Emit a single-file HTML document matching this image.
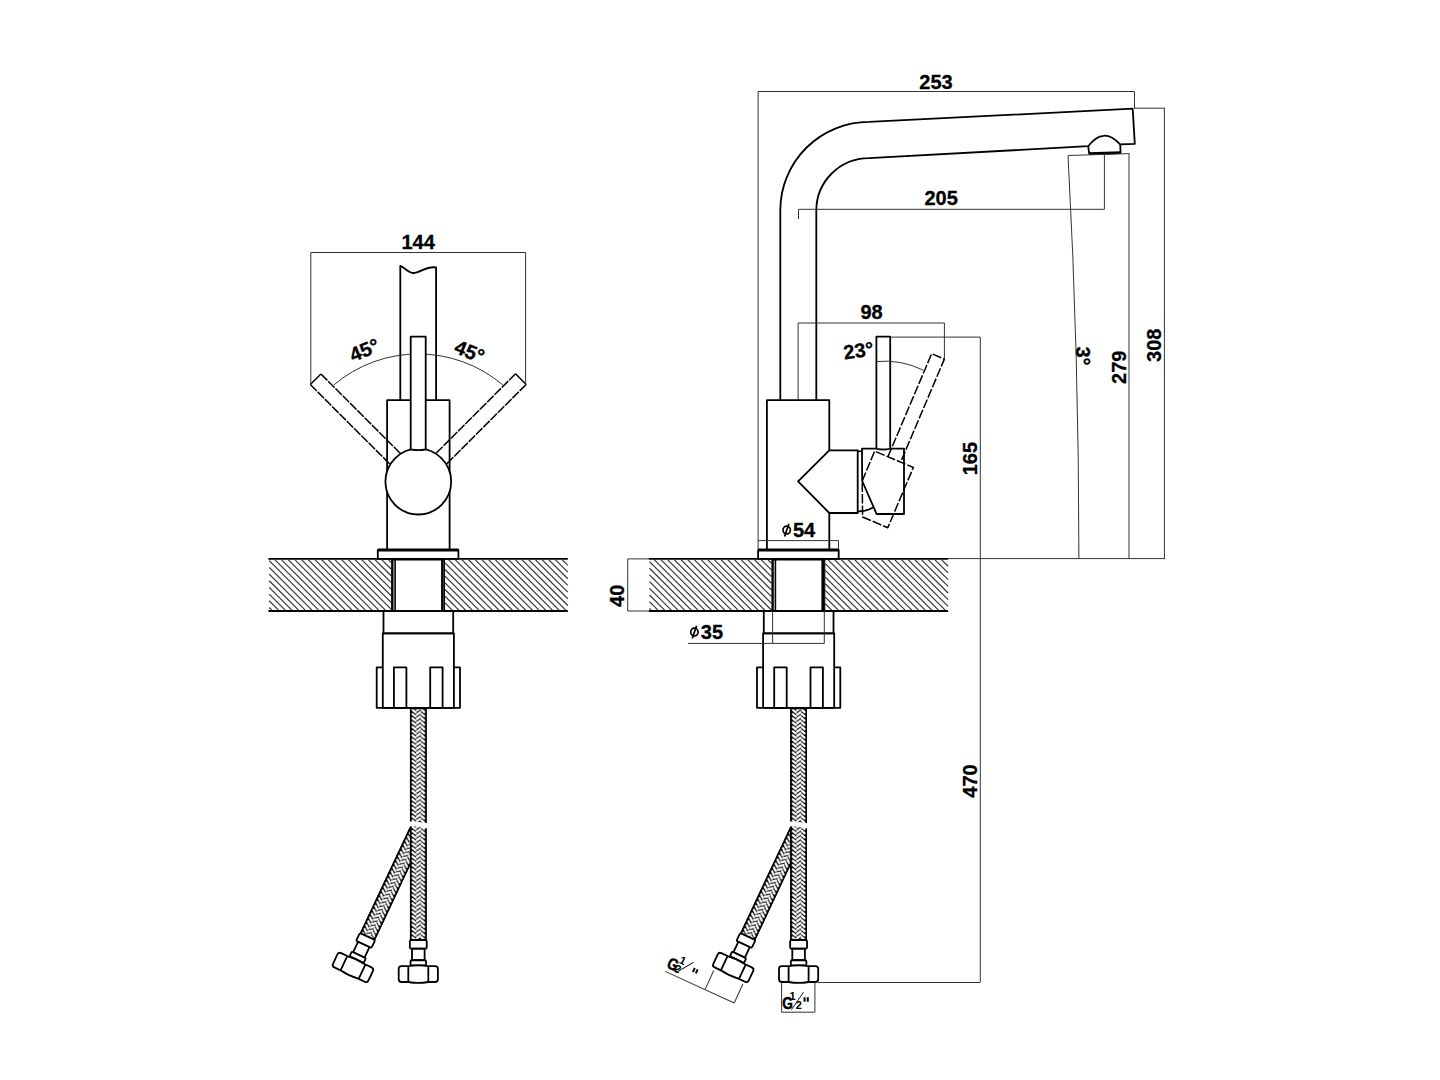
<!DOCTYPE html><html><head><meta charset="utf-8"><style>html,body{margin:0;padding:0;background:#fff;}svg{display:block}</style></head><body>
<svg width="1440" height="1080" viewBox="0 0 1440 1080" font-family="Liberation Sans, sans-serif" font-weight="bold" stroke-linejoin="round">
<rect width="1440" height="1080" fill="#fff"/>
<defs>
<pattern id="braid" patternUnits="userSpaceOnUse" x="0" y="0" width="16.7" height="4.26">
<rect width="16.7" height="4.26" fill="#000"/>
<g stroke="#fff" stroke-width="2.25" stroke-linecap="round">
<line x1="2.6" y1="-3.06" x2="5.6" y2="-0.56"/><line x1="7.1" y1="-2.46" x2="10.1" y2="-4.96"/><line x1="11.5" y1="-3.16" x2="14.3" y2="-0.76"/><line x1="2.6" y1="1.20" x2="5.6" y2="3.70"/><line x1="7.1" y1="1.80" x2="10.1" y2="-0.70"/><line x1="11.5" y1="1.10" x2="14.3" y2="3.50"/><line x1="2.6" y1="5.46" x2="5.6" y2="7.96"/><line x1="7.1" y1="6.06" x2="10.1" y2="3.56"/><line x1="11.5" y1="5.36" x2="14.3" y2="7.76"/>
</g></pattern>
</defs>
<g stroke="#333" stroke-width="1.2">
<line x1="269.20" y1="607.46" x2="271.84" y2="610.10"/>
<line x1="269.20" y1="600.78" x2="278.52" y2="610.10"/>
<line x1="269.20" y1="594.10" x2="285.20" y2="610.10"/>
<line x1="269.20" y1="587.42" x2="291.88" y2="610.10"/>
<line x1="269.20" y1="580.74" x2="298.56" y2="610.10"/>
<line x1="269.20" y1="574.06" x2="305.24" y2="610.10"/>
<line x1="269.20" y1="567.38" x2="311.92" y2="610.10"/>
<line x1="269.20" y1="560.70" x2="318.60" y2="610.10"/>
<line x1="274.98" y1="559.80" x2="325.28" y2="610.10"/>
<line x1="281.66" y1="559.80" x2="331.96" y2="610.10"/>
<line x1="288.34" y1="559.80" x2="338.64" y2="610.10"/>
<line x1="295.02" y1="559.80" x2="345.32" y2="610.10"/>
<line x1="301.70" y1="559.80" x2="352.00" y2="610.10"/>
<line x1="308.38" y1="559.80" x2="358.68" y2="610.10"/>
<line x1="315.06" y1="559.80" x2="365.36" y2="610.10"/>
<line x1="321.74" y1="559.80" x2="372.04" y2="610.10"/>
<line x1="328.42" y1="559.80" x2="378.72" y2="610.10"/>
<line x1="335.10" y1="559.80" x2="385.40" y2="610.10"/>
<line x1="341.78" y1="559.80" x2="391.10" y2="609.12"/>
<line x1="348.46" y1="559.80" x2="391.10" y2="602.44"/>
<line x1="355.14" y1="559.80" x2="391.10" y2="595.76"/>
<line x1="361.82" y1="559.80" x2="391.10" y2="589.08"/>
<line x1="368.50" y1="559.80" x2="391.10" y2="582.40"/>
<line x1="375.18" y1="559.80" x2="391.10" y2="575.72"/>
<line x1="381.86" y1="559.80" x2="391.10" y2="569.04"/>
<line x1="388.54" y1="559.80" x2="391.10" y2="562.36"/>
<line x1="445.00" y1="609.58" x2="445.52" y2="610.10"/>
<line x1="445.00" y1="602.90" x2="452.20" y2="610.10"/>
<line x1="445.00" y1="596.22" x2="458.88" y2="610.10"/>
<line x1="445.00" y1="589.54" x2="465.56" y2="610.10"/>
<line x1="445.00" y1="582.86" x2="472.24" y2="610.10"/>
<line x1="445.00" y1="576.18" x2="478.92" y2="610.10"/>
<line x1="445.00" y1="569.50" x2="485.60" y2="610.10"/>
<line x1="445.00" y1="562.82" x2="492.28" y2="610.10"/>
<line x1="448.66" y1="559.80" x2="498.96" y2="610.10"/>
<line x1="455.34" y1="559.80" x2="505.64" y2="610.10"/>
<line x1="462.02" y1="559.80" x2="512.32" y2="610.10"/>
<line x1="468.70" y1="559.80" x2="519.00" y2="610.10"/>
<line x1="475.38" y1="559.80" x2="525.68" y2="610.10"/>
<line x1="482.06" y1="559.80" x2="532.36" y2="610.10"/>
<line x1="488.74" y1="559.80" x2="539.04" y2="610.10"/>
<line x1="495.42" y1="559.80" x2="545.72" y2="610.10"/>
<line x1="502.10" y1="559.80" x2="552.40" y2="610.10"/>
<line x1="508.78" y1="559.80" x2="559.08" y2="610.10"/>
<line x1="515.46" y1="559.80" x2="565.76" y2="610.10"/>
<line x1="522.14" y1="559.80" x2="567.80" y2="605.46"/>
<line x1="528.82" y1="559.80" x2="567.80" y2="598.78"/>
<line x1="535.50" y1="559.80" x2="567.80" y2="592.10"/>
<line x1="542.18" y1="559.80" x2="567.80" y2="585.42"/>
<line x1="548.86" y1="559.80" x2="567.80" y2="578.74"/>
<line x1="555.54" y1="559.80" x2="567.80" y2="572.06"/>
<line x1="562.22" y1="559.80" x2="567.80" y2="565.38"/>
</g>
<line x1="268.40" y1="558.90" x2="567.80" y2="558.90" stroke="#000" stroke-width="1.8" />
<line x1="268.40" y1="611.00" x2="567.80" y2="611.00" stroke="#000" stroke-width="1.8" />
<line x1="392.30" y1="558.90" x2="392.30" y2="611.00" stroke="#000" stroke-width="2.4" />
<line x1="395.10" y1="558.90" x2="395.10" y2="611.00" stroke="#000" stroke-width="1.6" />
<line x1="442.40" y1="558.90" x2="442.40" y2="611.00" stroke="#000" stroke-width="2.6" />
<line x1="444.40" y1="558.90" x2="444.40" y2="611.00" stroke="#000" stroke-width="1.2" />
<line x1="391.10" y1="559.20" x2="445.00" y2="559.20" stroke="#000" stroke-width="2.6" />
<rect x="377.80" y="550.00" width="80.60" height="8.90" fill="none" stroke="#000" stroke-width="1.8" />
<line x1="377.80" y1="550.00" x2="458.40" y2="550.00" stroke="#000" stroke-width="3.0" />
<rect x="383.50" y="611.00" width="69.70" height="22.30" fill="none" stroke="#000" stroke-width="1.8" />
<rect x="382.80" y="633.30" width="71.10" height="74.50" fill="none" stroke="#000" stroke-width="1.8" />
<path d="M382.80,667.4 L376.70,667.4 L376.70,707.8 L460.00,707.8 L460.00,667.4 L453.90,667.4" fill="none" stroke="#000" stroke-width="1.8" />
<rect x="393.90" y="667.40" width="12.50" height="40.40" fill="none" stroke="#000" stroke-width="1.8" />
<rect x="430.20" y="667.40" width="12.40" height="40.40" fill="none" stroke="#000" stroke-width="1.8" />
<g transform="translate(409.95 708.60) rotate(0)">
<rect x="0" y="0" width="16.7" height="115.20" fill="url(#braid)"/>
<rect x="0.6" y="0" width="15.5" height="115.20" fill="none" stroke="#000" stroke-width="1.2"/>
</g>
<g transform="translate(409.95 826.70) rotate(25.2)">
<rect x="0" y="0" width="16.7" height="117.50" fill="url(#braid)"/>
<rect x="0.6" y="0" width="15.5" height="117.50" fill="none" stroke="#000" stroke-width="1.2"/>
</g>
<g transform="translate(367.48 936.57) rotate(25.2)" fill="#fff" stroke="#000" stroke-width="1.8">
<rect x="-8.45" y="0" width="16.9" height="8.75" rx="1.5"/>
<rect x="-6.3" y="8.75" width="12.6" height="11.5"/>
<rect x="-7.8" y="20.25" width="15.6" height="5.15" rx="1.5"/>
<path d="M-10,26.2 L-16.8,26.2 Q-19.6,26.2 -19.6,29 L-19.6,39.3 Q-19.6,42 -16.8,42 L-10,42 Q0,43.7 10,42 L16.8,42 Q19.6,42 19.6,39.3 L19.6,29 Q19.6,26.2 16.8,26.2 L10,26.2 Q0,24.5 -10,26.2 Z"/>
<path d="M-10,26.2 L-10,42 M10,26.2 L10,42" fill="none"/>
</g>
<g transform="translate(409.95 825.50) rotate(0)">
<rect x="0" y="0" width="16.7" height="114.50" fill="url(#braid)"/>
<rect x="0.6" y="0" width="15.5" height="114.50" fill="none" stroke="#000" stroke-width="1.2"/>
</g>
<path d="M407.95,821.6 C415.30,820.8 421.30,823.6 428.65,823.0 L428.65,828.6 C421.30,828.0 415.30,825.6 409.65,826.4 L407.95,826.4 Z" fill="#fff" stroke="none"/>
<g transform="translate(418.30 940.00) rotate(0)" fill="#fff" stroke="#000" stroke-width="1.8">
<rect x="-8.45" y="0" width="16.9" height="8.75" rx="1.5"/>
<rect x="-6.3" y="8.75" width="12.6" height="11.5"/>
<rect x="-7.8" y="20.25" width="15.6" height="5.15" rx="1.5"/>
<path d="M-10,26.2 L-16.8,26.2 Q-19.6,26.2 -19.6,29 L-19.6,39.3 Q-19.6,42 -16.8,42 L-10,42 Q0,43.7 10,42 L16.8,42 Q19.6,42 19.6,39.3 L19.6,29 Q19.6,26.2 16.8,26.2 L10,26.2 Q0,24.5 -10,26.2 Z"/>
<path d="M-10,26.2 L-10,42 M10,26.2 L10,42" fill="none"/>
</g>
<g stroke="#333" stroke-width="1.2">
<line x1="649.50" y1="608.34" x2="651.26" y2="610.10"/>
<line x1="649.50" y1="601.66" x2="657.94" y2="610.10"/>
<line x1="649.50" y1="594.98" x2="664.62" y2="610.10"/>
<line x1="649.50" y1="588.30" x2="671.30" y2="610.10"/>
<line x1="649.50" y1="581.62" x2="677.98" y2="610.10"/>
<line x1="649.50" y1="574.94" x2="684.66" y2="610.10"/>
<line x1="649.50" y1="568.26" x2="691.34" y2="610.10"/>
<line x1="649.50" y1="561.58" x2="698.02" y2="610.10"/>
<line x1="654.40" y1="559.80" x2="704.70" y2="610.10"/>
<line x1="661.08" y1="559.80" x2="711.38" y2="610.10"/>
<line x1="667.76" y1="559.80" x2="718.06" y2="610.10"/>
<line x1="674.44" y1="559.80" x2="724.74" y2="610.10"/>
<line x1="681.12" y1="559.80" x2="731.42" y2="610.10"/>
<line x1="687.80" y1="559.80" x2="738.10" y2="610.10"/>
<line x1="694.48" y1="559.80" x2="744.78" y2="610.10"/>
<line x1="701.16" y1="559.80" x2="751.46" y2="610.10"/>
<line x1="707.84" y1="559.80" x2="758.14" y2="610.10"/>
<line x1="714.52" y1="559.80" x2="764.82" y2="610.10"/>
<line x1="721.20" y1="559.80" x2="771.40" y2="610.00"/>
<line x1="727.88" y1="559.80" x2="771.40" y2="603.32"/>
<line x1="734.56" y1="559.80" x2="771.40" y2="596.64"/>
<line x1="741.24" y1="559.80" x2="771.40" y2="589.96"/>
<line x1="747.92" y1="559.80" x2="771.40" y2="583.28"/>
<line x1="754.60" y1="559.80" x2="771.40" y2="576.60"/>
<line x1="761.28" y1="559.80" x2="771.40" y2="569.92"/>
<line x1="767.96" y1="559.80" x2="771.40" y2="563.24"/>
<line x1="825.30" y1="603.78" x2="831.62" y2="610.10"/>
<line x1="825.30" y1="597.10" x2="838.30" y2="610.10"/>
<line x1="825.30" y1="590.42" x2="844.98" y2="610.10"/>
<line x1="825.30" y1="583.74" x2="851.66" y2="610.10"/>
<line x1="825.30" y1="577.06" x2="858.34" y2="610.10"/>
<line x1="825.30" y1="570.38" x2="865.02" y2="610.10"/>
<line x1="825.30" y1="563.70" x2="871.70" y2="610.10"/>
<line x1="828.08" y1="559.80" x2="878.38" y2="610.10"/>
<line x1="834.76" y1="559.80" x2="885.06" y2="610.10"/>
<line x1="841.44" y1="559.80" x2="891.74" y2="610.10"/>
<line x1="848.12" y1="559.80" x2="898.42" y2="610.10"/>
<line x1="854.80" y1="559.80" x2="905.10" y2="610.10"/>
<line x1="861.48" y1="559.80" x2="911.78" y2="610.10"/>
<line x1="868.16" y1="559.80" x2="918.46" y2="610.10"/>
<line x1="874.84" y1="559.80" x2="925.14" y2="610.10"/>
<line x1="881.52" y1="559.80" x2="931.82" y2="610.10"/>
<line x1="888.20" y1="559.80" x2="938.50" y2="610.10"/>
<line x1="894.88" y1="559.80" x2="945.18" y2="610.10"/>
<line x1="901.56" y1="559.80" x2="948.10" y2="606.34"/>
<line x1="908.24" y1="559.80" x2="948.10" y2="599.66"/>
<line x1="914.92" y1="559.80" x2="948.10" y2="592.98"/>
<line x1="921.60" y1="559.80" x2="948.10" y2="586.30"/>
<line x1="928.28" y1="559.80" x2="948.10" y2="579.62"/>
<line x1="934.96" y1="559.80" x2="948.10" y2="572.94"/>
<line x1="941.64" y1="559.80" x2="948.10" y2="566.26"/>
</g>
<line x1="648.70" y1="558.90" x2="948.10" y2="558.90" stroke="#000" stroke-width="1.8" />
<line x1="648.70" y1="611.00" x2="948.10" y2="611.00" stroke="#000" stroke-width="1.8" />
<line x1="772.60" y1="558.90" x2="772.60" y2="611.00" stroke="#000" stroke-width="2.4" />
<line x1="775.40" y1="558.90" x2="775.40" y2="611.00" stroke="#000" stroke-width="1.6" />
<line x1="822.70" y1="558.90" x2="822.70" y2="611.00" stroke="#000" stroke-width="2.6" />
<line x1="824.70" y1="558.90" x2="824.70" y2="611.00" stroke="#000" stroke-width="1.2" />
<line x1="771.40" y1="559.20" x2="825.30" y2="559.20" stroke="#000" stroke-width="2.6" />
<rect x="758.10" y="550.00" width="80.60" height="8.90" fill="none" stroke="#000" stroke-width="1.8" />
<line x1="758.10" y1="550.00" x2="838.70" y2="550.00" stroke="#000" stroke-width="3.0" />
<rect x="763.80" y="611.00" width="69.70" height="22.30" fill="none" stroke="#000" stroke-width="1.8" />
<rect x="763.10" y="633.30" width="71.10" height="74.50" fill="none" stroke="#000" stroke-width="1.8" />
<path d="M763.10,667.4 L757.00,667.4 L757.00,707.8 L840.30,707.8 L840.30,667.4 L834.20,667.4" fill="none" stroke="#000" stroke-width="1.8" />
<rect x="774.20" y="667.40" width="12.50" height="40.40" fill="none" stroke="#000" stroke-width="1.8" />
<rect x="810.50" y="667.40" width="12.40" height="40.40" fill="none" stroke="#000" stroke-width="1.8" />
<g transform="translate(790.25 708.60) rotate(0)">
<rect x="0" y="0" width="16.7" height="115.20" fill="url(#braid)"/>
<rect x="0.6" y="0" width="15.5" height="115.20" fill="none" stroke="#000" stroke-width="1.2"/>
</g>
<g transform="translate(790.25 826.70) rotate(25.2)">
<rect x="0" y="0" width="16.7" height="117.50" fill="url(#braid)"/>
<rect x="0.6" y="0" width="15.5" height="117.50" fill="none" stroke="#000" stroke-width="1.2"/>
</g>
<g transform="translate(747.78 936.57) rotate(25.2)" fill="#fff" stroke="#000" stroke-width="1.8">
<rect x="-8.45" y="0" width="16.9" height="8.75" rx="1.5"/>
<rect x="-6.3" y="8.75" width="12.6" height="11.5"/>
<rect x="-7.8" y="20.25" width="15.6" height="5.15" rx="1.5"/>
<path d="M-10,26.2 L-16.8,26.2 Q-19.6,26.2 -19.6,29 L-19.6,39.3 Q-19.6,42 -16.8,42 L-10,42 Q0,43.7 10,42 L16.8,42 Q19.6,42 19.6,39.3 L19.6,29 Q19.6,26.2 16.8,26.2 L10,26.2 Q0,24.5 -10,26.2 Z"/>
<path d="M-10,26.2 L-10,42 M10,26.2 L10,42" fill="none"/>
</g>
<g transform="translate(790.25 825.50) rotate(0)">
<rect x="0" y="0" width="16.7" height="114.50" fill="url(#braid)"/>
<rect x="0.6" y="0" width="15.5" height="114.50" fill="none" stroke="#000" stroke-width="1.2"/>
</g>
<path d="M788.25,821.6 C795.60,820.8 801.60,823.6 808.95,823.0 L808.95,828.6 C801.60,828.0 795.60,825.6 789.95,826.4 L788.25,826.4 Z" fill="#fff" stroke="none"/>
<g transform="translate(798.60 940.00) rotate(0)" fill="#fff" stroke="#000" stroke-width="1.8">
<rect x="-8.45" y="0" width="16.9" height="8.75" rx="1.5"/>
<rect x="-6.3" y="8.75" width="12.6" height="11.5"/>
<rect x="-7.8" y="20.25" width="15.6" height="5.15" rx="1.5"/>
<path d="M-10,26.2 L-16.8,26.2 Q-19.6,26.2 -19.6,29 L-19.6,39.3 Q-19.6,42 -16.8,42 L-10,42 Q0,43.7 10,42 L16.8,42 Q19.6,42 19.6,39.3 L19.6,29 Q19.6,26.2 16.8,26.2 L10,26.2 Q0,24.5 -10,26.2 Z"/>
<path d="M-10,26.2 L-10,42 M10,26.2 L10,42" fill="none"/>
</g>
<g transform="rotate(-45 418.3 481.8)" fill="none" stroke="#000" stroke-width="1.5"><path d="M410.7,336.7 L410.7,469.8 M425.7,336.7 L425.7,469.8" stroke-dasharray="9.1 1.2"/><path d="M410.7,336.7 L425.7,336.7"/></g>
<g transform="rotate(45 418.3 481.8)" fill="none" stroke="#000" stroke-width="1.5"><path d="M410.7,336.7 L410.7,469.8 M425.7,336.7 L425.7,469.8" stroke-dasharray="9.1 1.2"/><path d="M410.7,336.7 L425.7,336.7"/></g>
<path d="M400.3,400.2 L400.3,265.8 C405,268 409,273 413.3,273 C420,273 427,265.5 436.1,267.5 L436.1,400.2" fill="none" stroke="#000" stroke-width="1.8" />
<rect x="387.10" y="400.20" width="62.50" height="149.80" fill="none" stroke="#000" stroke-width="1.8" />
<circle cx="418.3" cy="481.6" r="32.9" fill="#fff" stroke="#000" stroke-width="1.8"/>
<path d="M333.75,385 A130.6 130.6 0 0 1 502.85,385" fill="none" stroke="#333" stroke-width="1.0" />
<path d="M410.7,449.3 L410.7,336.7 L425.7,336.7 L425.7,449.3 Q418.2,451 410.7,449.3" fill="#fff" stroke="#000" stroke-width="1.8" />
<line x1="310.80" y1="252.50" x2="525.60" y2="252.50" stroke="#333" stroke-width="1.0" />
<line x1="310.80" y1="252.50" x2="310.80" y2="384.20" stroke="#333" stroke-width="1.0" />
<line x1="525.60" y1="252.50" x2="525.60" y2="384.20" stroke="#333" stroke-width="1.0" />
<text x="418.20" y="249.20" font-size="20" text-anchor="middle" stroke="#000" stroke-width="0.3" >144</text>
<text x="367.00" y="356.50" font-size="20" text-anchor="middle" transform="rotate(-22 367.00 356.50)" stroke="#000" stroke-width="0.3" >45°</text>
<text x="467.00" y="358.00" font-size="20" text-anchor="middle" transform="rotate(22 467.00 358.00)" stroke="#000" stroke-width="0.3" >45°</text>
<rect x="766.90" y="400.20" width="62.40" height="149.80" fill="none" stroke="#000" stroke-width="1.8" />
<path d="M780.3,400.2 L780.3,209.5 A88.6 88.6 0 0 1 868.9,121.9 L1132.7,108.7 L1134.8,143.9 L1120.2,144.4 C1112,136 1106,135.5 1103.5,135.8 C1099,136 1093,140 1088.2,146.2 L868.9,158.1 A52.6 52.6 0 0 0 816.3,210.7 L816.3,400.2" fill="none" stroke="#000" stroke-width="1.8" />
<path d="M1088.2,146.2 L1089.2,153.8 L1120.6,152.8 L1120.2,144.4" fill="none" stroke="#000" stroke-width="1.8" />
<line x1="1089.20" y1="153.60" x2="1120.60" y2="152.60" stroke="#000" stroke-width="2.6" />
<path d="M829.3,450.4 L857.7,450.4 L857.7,513 L829.3,513 L798.1,481.4 Z" fill="#fff" stroke="#000" stroke-width="1.8" />
<g transform="rotate(23 862.2 481.0)" fill="none" stroke="#000" stroke-width="1.5" stroke-dasharray="9.3 2">
<path d="M862.2,481 L862,448.6 L904,448.6 L904,514 L876.6,514 Z"/>
<path d="M876.4,448.6 L876.4,336.7 L890.2,336.7 L890.2,448.6"/>
</g>
<path d="M862,448.6 L904,448.6 L904,514 L876.6,514 L862.2,481 Z" fill="none" stroke="#000" stroke-width="1.8" />
<path d="M876.4,448.6 L876.4,336.7 L890.2,336.7 L890.2,448.6" fill="#fff" stroke="#000" stroke-width="1.8" />
<path d="M876.4,448.6 Q883,451 890.2,448.6" fill="none" stroke="#000" stroke-width="1.2" />
<path d="M857.7,511.4 Q866,511.6 873,507.4" fill="none" stroke="#000" stroke-width="1.7" />
<line x1="857.70" y1="451.30" x2="862.00" y2="451.30" stroke="#000" stroke-width="1.6" />
<path d="M876.4,361.5 A88 88 0 0 1 923.3,370.2" fill="none" stroke="#333" stroke-width="1.0" />
<text x="859.50" y="357.50" font-size="20" text-anchor="middle" transform="rotate(-8 859.50 357.50)" stroke="#000" stroke-width="0.3" >23°</text>
<line x1="758.10" y1="91.50" x2="1134.50" y2="91.50" stroke="#333" stroke-width="1.0" />
<line x1="758.10" y1="91.50" x2="758.10" y2="549.00" stroke="#333" stroke-width="1.0" />
<line x1="1134.50" y1="91.50" x2="1134.50" y2="108.70" stroke="#333" stroke-width="1.0" />
<text x="936.00" y="88.60" font-size="20" text-anchor="middle" stroke="#000" stroke-width="0.3" >253</text>
<line x1="798.50" y1="209.30" x2="1104.40" y2="209.30" stroke="#333" stroke-width="1.0" />
<line x1="798.50" y1="209.30" x2="798.50" y2="219.00" stroke="#333" stroke-width="1.0" />
<line x1="1104.40" y1="155.00" x2="1104.40" y2="209.30" stroke="#333" stroke-width="1.0" />
<text x="941.20" y="205.40" font-size="20" text-anchor="middle" stroke="#000" stroke-width="0.3" >205</text>
<line x1="798.10" y1="323.00" x2="944.40" y2="323.00" stroke="#333" stroke-width="1.0" />
<line x1="798.10" y1="323.00" x2="798.10" y2="400.20" stroke="#333" stroke-width="1.0" />
<line x1="944.40" y1="323.00" x2="944.40" y2="358.80" stroke="#333" stroke-width="1.0" />
<text x="871.60" y="318.80" font-size="20" text-anchor="middle" stroke="#000" stroke-width="0.3" >98</text>
<line x1="890.20" y1="337.10" x2="980.30" y2="337.10" stroke="#333" stroke-width="1.0" />
<line x1="980.30" y1="337.10" x2="980.30" y2="982.30" stroke="#333" stroke-width="1.0" />
<text x="977.40" y="458.60" font-size="20" text-anchor="middle" transform="rotate(-90 977.40 458.60)" stroke="#000" stroke-width="0.3" >165</text>
<text x="977.30" y="781.00" font-size="20" text-anchor="middle" transform="rotate(-90 977.30 781.00)" stroke="#000" stroke-width="0.3" >470</text>
<line x1="817.80" y1="982.50" x2="980.30" y2="982.50" stroke="#333" stroke-width="1.0" />
<line x1="1134.50" y1="108.20" x2="1165.00" y2="108.20" stroke="#333" stroke-width="1.0" />
<line x1="1164.40" y1="108.20" x2="1164.40" y2="558.30" stroke="#333" stroke-width="1.0" />
<line x1="947.50" y1="558.60" x2="1165.00" y2="558.60" stroke="#333" stroke-width="1.0" />
<line x1="1068.00" y1="155.50" x2="1129.50" y2="153.60" stroke="#333" stroke-width="1.0" />
<line x1="1129.00" y1="153.60" x2="1129.00" y2="558.30" stroke="#333" stroke-width="1.0" />
<path d="M1068.05,155.8 Q1078.9,356.4 1078.9,558.3" fill="none" stroke="#333" stroke-width="1.0" />
<text x="1161.50" y="345.30" font-size="20" text-anchor="middle" transform="rotate(-90 1161.50 345.30)" stroke="#000" stroke-width="0.3" >308</text>
<text x="1125.80" y="367.30" font-size="20" text-anchor="middle" transform="rotate(-90 1125.80 367.30)" stroke="#000" stroke-width="0.3" >279</text>
<text x="1075.80" y="356.00" font-size="20" text-anchor="middle" transform="rotate(90 1075.80 356.00)" stroke="#000" stroke-width="0.3" >3°</text>
<line x1="627.70" y1="558.90" x2="627.70" y2="611.00" stroke="#333" stroke-width="1.0" />
<line x1="627.70" y1="558.90" x2="648.75" y2="558.90" stroke="#333" stroke-width="1.0" />
<line x1="627.70" y1="611.00" x2="648.75" y2="611.00" stroke="#333" stroke-width="1.0" />
<text x="624.30" y="595.80" font-size="20" text-anchor="middle" transform="rotate(-90 624.30 595.80)" stroke="#000" stroke-width="0.3" >40</text>
<line x1="758.00" y1="540.60" x2="838.50" y2="540.60" stroke="#333" stroke-width="1.0" />
<line x1="838.50" y1="540.60" x2="838.50" y2="549.00" stroke="#333" stroke-width="1.0" />
<text x="793.00" y="536.50" font-size="20" text-anchor="start" stroke="#000" stroke-width="0.3" >54</text>
<g fill="none" stroke="#000" stroke-width="1.7"><ellipse cx="786.7" cy="530.1" rx="3.7" ry="3.9"/><line x1="784.6" y1="536.4" x2="788.9" y2="523.8"/></g>
<line x1="688.00" y1="643.40" x2="824.30" y2="643.40" stroke="#333" stroke-width="1.0" />
<line x1="772.60" y1="611.00" x2="772.60" y2="643.40" stroke="#333" stroke-width="1.0" />
<line x1="824.30" y1="611.00" x2="824.30" y2="643.40" stroke="#333" stroke-width="1.0" />
<text x="700.80" y="638.50" font-size="20" text-anchor="start" stroke="#000" stroke-width="0.3" >35</text>
<g fill="none" stroke="#000" stroke-width="1.7"><ellipse cx="694.4" cy="632.1" rx="3.7" ry="3.9"/><line x1="692.3" y1="638.4" x2="696.6" y2="625.8"/></g>
<line x1="781.60" y1="982.00" x2="781.60" y2="1012.20" stroke="#333" stroke-width="1.0" />
<line x1="814.90" y1="982.00" x2="814.90" y2="1012.20" stroke="#333" stroke-width="1.0" />
<line x1="781.60" y1="1012.20" x2="814.90" y2="1012.20" stroke="#333" stroke-width="1.0" />
<g transform="translate(781.6 1012.2)">
<text x="0" y="0" font-size="16.7" transform="translate(0.60 -3.30) scale(0.82 1)" stroke="#000" stroke-width="0.5">G</text>
<text x="8.00" y="-12.50" font-size="11">1</text>
<text x="14.20" y="-3.20" font-size="11">2</text>
<line x1="9.80" y1="-2.50" x2="22.00" y2="-20.10" stroke="#000" stroke-width="0.9"/>
<g fill="#000"><rect x="22.00" y="-15.00" width="2" height="4.5"/><rect x="25.20" y="-15.00" width="2" height="4.5"/></g>
</g>
<g transform="translate(705 989.65) rotate(24.6)">
<line x1="-43.8" y1="0" x2="32.1" y2="0" stroke="#333" stroke-width="1"/>
<line x1="0" y1="0" x2="0" y2="-21" stroke="#333" stroke-width="1"/>
<line x1="32.1" y1="0" x2="32.1" y2="-21" stroke="#333" stroke-width="1"/>
<text x="0" y="0" font-size="16.7" transform="translate(-45.00 -4.10) scale(0.82 1)" stroke="#000" stroke-width="0.5">G</text>
<text x="-35.40" y="-13.50" font-size="11">1</text>
<text x="-36.30" y="-3.80" font-size="11">2</text>
<line x1="-33.85" y1="-3.00" x2="-21.85" y2="-20.10" stroke="#000" stroke-width="0.9"/>
<g fill="#000"><rect x="-19.30" y="-15.40" width="2" height="4.5"/><rect x="-16.10" y="-15.40" width="2" height="4.5"/></g>
</g>
</svg></body></html>
